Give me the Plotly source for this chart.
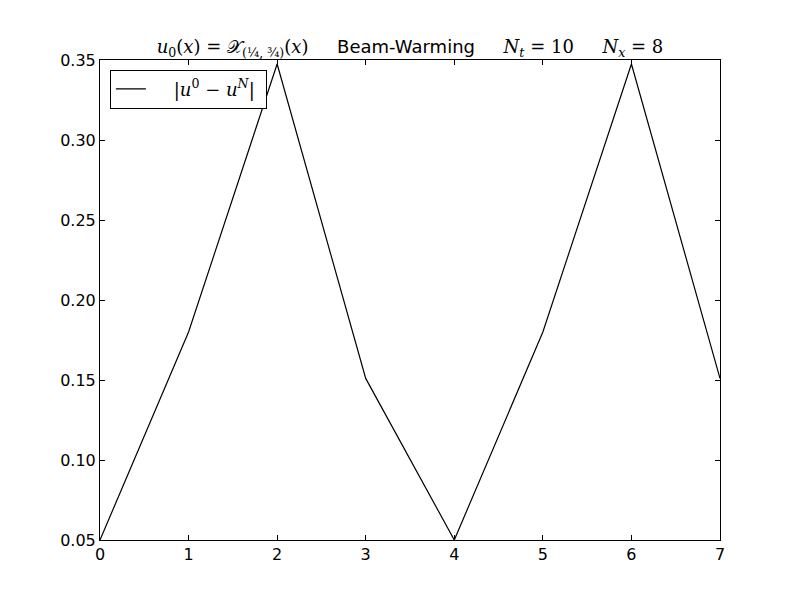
import plotly.graph_objects as go

x_vals = [0, 1, 2, 3, 4, 5, 6, 7]
err_vals = [0.05, 0.18, 0.3475, 0.151, 0.05, 0.18, 0.3475, 0.151]
y_ticks = [0.05, 0.10, 0.15, 0.20, 0.25, 0.30, 0.35]
y_tick_labels = ["0.05", "0.10", "0.15", "0.20", "0.25", "0.30", "0.35"]
x_ticks = [0, 1, 2, 3, 4, 5, 6, 7]

serif = "font-family:'DejaVu Serif'"
title_text = (f"<span style=\"{serif}\"><i>u</i><sub>0</sub>(<i>x</i>) = 𝒳<sub>(¼, ¾)</sub>(<i>x</i>)</span>"
              "     Beam-Warming     "
              f"<span style=\"{serif}\"><i>N<sub>t</sub></i> = 10     <i>N<sub>x</sub></i> = 8</span>")
legend_name = "    |<i>u</i><sup>0</sup> − <i>u<sup>N</sup></i>| "

fig = go.Figure()
fig.add_trace(go.Scatter(x=x_vals, y=err_vals, mode="lines",
                         line=dict(color="black", width=1.2),
                         name=legend_name, showlegend=True))

axis_common = dict(showgrid=False, zeroline=False, showline=True, linecolor="black",
                   linewidth=1, mirror="allticks", ticks="inside", ticklen=5,
                   tickcolor="black", tickfont=dict(family="DejaVu Sans", size=16, color="black"))

fig.update_layout(
    width=800, height=600,
    paper_bgcolor="white", plot_bgcolor="white",
    margin=dict(l=92, r=88, t=52, b=68),
    title=dict(text=title_text, x=0.5, xanchor="center", xref="paper",
               y=1, yref="paper", yanchor="bottom", pad=dict(b=7),
               font=dict(family="DejaVu Sans", size=18, color="black")),
    xaxis=dict(range=[0, 7], tickvals=x_ticks, **axis_common),
    yaxis=dict(range=[0.05, 0.35], tickvals=y_ticks, ticktext=y_tick_labels, **axis_common),
    legend=dict(x=0.016, y=0.98, xanchor="left", yanchor="top",
                bordercolor="black", borderwidth=1, bgcolor="white",
                font=dict(family="DejaVu Serif", size=18, color="black")),
    showlegend=True,
)

fig.write_html("out.html")
